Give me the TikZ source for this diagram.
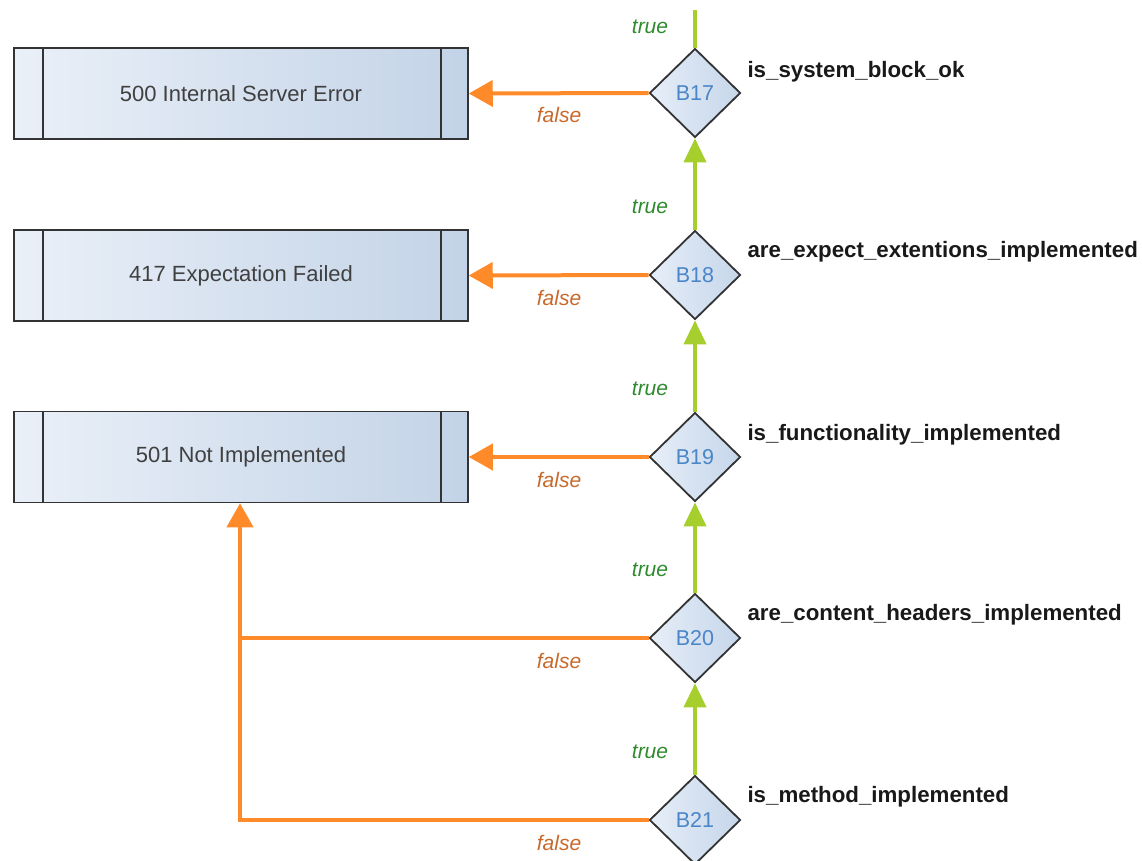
\documentclass[tikz,border=0pt]{standalone}
\usepackage{fontspec}
\setmainfont{Liberation Sans}
\usetikzlibrary{shapes.geometric,arrows.meta}
\definecolor{boxL}{HTML}{EAF0F8}
\definecolor{boxR}{HTML}{C3D3E7}
\definecolor{diaL}{HTML}{E6EEF8}
\definecolor{diaR}{HTML}{C6D6EA}
\definecolor{bluetxt}{HTML}{4A86C8}
\definecolor{grn}{HTML}{A6CF2E}
\definecolor{org}{HTML}{FF8A2A}
\definecolor{truetxt}{HTML}{2E8B2E}
\definecolor{falsetxt}{HTML}{C8692C}
\definecolor{edge}{HTML}{333333}
\tikzset{
  status/.style={draw=edge, line width=1.5pt, minimum width=454pt, minimum height=91pt,
    left color=boxL, right color=boxR, inner sep=0pt, font=\fontsize{22}{26}\selectfont, text=black!75,
    path picture={
      \draw[edge, line width=1.5pt] ([xshift=29pt]path picture bounding box.north west) -- ([xshift=29pt]path picture bounding box.south west);
      \draw[edge, line width=1.5pt] ([xshift=-27pt]path picture bounding box.north east) -- ([xshift=-27pt]path picture bounding box.south east);
    }},
  decision/.style={diamond, draw=edge, line width=1.8pt, minimum width=91pt, minimum height=89pt, inner sep=0pt,
    left color=diaL, right color=diaR, text=bluetxt, font=\fontsize{21.5}{24}\selectfont},
  cond/.style={anchor=west, font=\bfseries\fontsize{22.3}{25}\selectfont, text=black!90},
  truelbl/.style={text=truetxt, font=\itshape\fontsize{21}{24}\selectfont},
  falselbl/.style={text=falsetxt, font=\itshape\fontsize{21}{24}\selectfont},
  yes/.style={draw=grn, line width=4pt, -{Triangle[length=24pt,width=22pt]}},
  no/.style={draw=org, line width=4pt, -{Triangle[length=24pt,width=26pt]}},
  nol/.style={draw=org, line width=4pt},
}
\begin{document}
\begin{tikzpicture}[x=1pt,y=-1pt]
\useasboundingbox (0,0) rectangle (1142,860);
\node[status] (s500) at (241,93.5) {500 Internal Server Error};
\node[status] (s417) at (241,275.5) {417 Expectation Failed};
\node[status] (s501) at (241,457) {501 Not Implemented};

\node[decision] (b17) at (695,93) {B17};
\node[decision] (b18) at (695,275) {B18};
\node[decision] (b19) at (695,457) {B19};
\node[decision] (b20) at (695,638) {B20};
\node[decision] (b21) at (695,820) {B21};

\node[cond] (c17) at (744,72) {is\_system\_block\_ok};
\node[cond] (c18) at (744,252) {are\_expect\_extentions\_implemented};
\node[cond] (c19) at (744,435) {is\_functionality\_implemented};
\node[cond] (c20) at (744,615) {are\_content\_headers\_implemented};
\node[cond] (c21) at (744,797) {is\_method\_implemented};

\coordinate (top) at (695,10);
\coordinate (bot) at (695,865);
\coordinate (j20) at (240,638);
\coordinate (j21) at (240,820);

\draw[draw=grn, line width=4pt] (top) -- (b17.north);
\draw[draw=grn, line width=4pt] (b21.south) -- (bot);
\draw[yes] (b18.north) -- (b17.south);
\draw[yes] (b19.north) -- (b18.south);
\draw[yes] (b20.north) -- (b19.south);
\draw[yes] (b21.north) -- (b20.south);

\draw[no] (b17.west) -- (s500.east);
\draw[no] (b18.west) -- (s417.east);
\draw[no] (b19.west) -- (s501.east);
\draw[nol] (b20.west) -- (j20);
\draw[no] (b21.west) -- (j21) -- (j21 |- s501.south);

\node[truelbl] (t17) at (650,27) {true};
\node[truelbl] (t18) at (650,207) {true};
\node[truelbl] (t19) at (650,389) {true};
\node[truelbl] (t20) at (650,570) {true};
\node[truelbl] (t21) at (650,752) {true};

\node[falselbl] (f17) at (559,115) {false};
\node[falselbl] (f18) at (559,298) {false};
\node[falselbl] (f19) at (559,480) {false};
\node[falselbl] (f20) at (559,661) {false};
\node[falselbl] (f21) at (559,843) {false};
\end{tikzpicture}
\end{document}
